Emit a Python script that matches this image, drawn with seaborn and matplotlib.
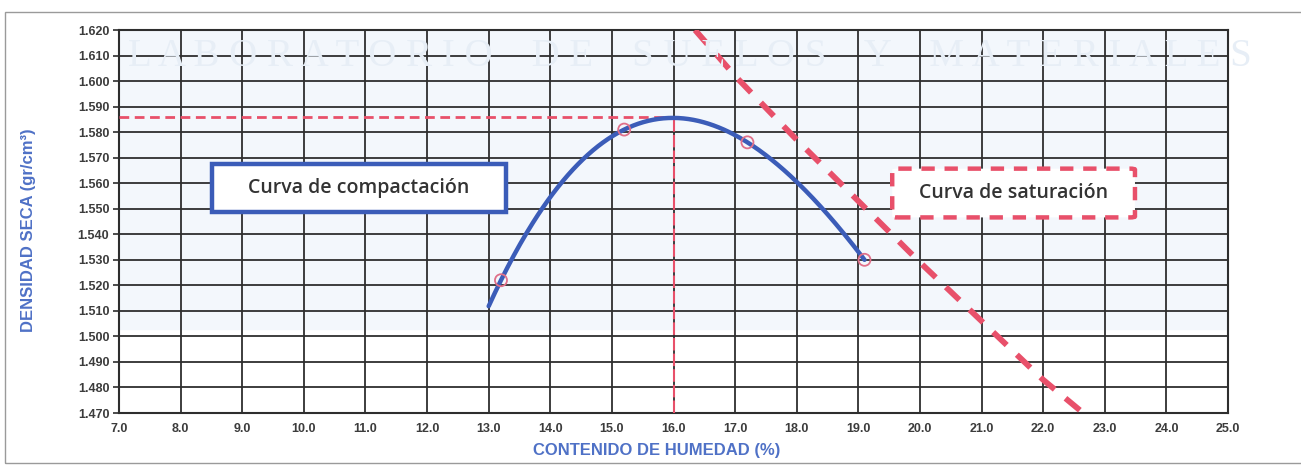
import numpy as np
import pandas as pd
import matplotlib
matplotlib.use("Agg")
import matplotlib.pyplot as plt
import seaborn as sns
from matplotlib.patches import Rectangle, FancyBboxPatch

# Proctor test results: moisture content (%) and dry density (gr/cm3)
moisture = [13.2, 15.2, 17.2, 19.1]
dry_density = [1.522, 1.581, 1.576, 1.530]

# Optimum moisture content and maximum dry density
omc = 16.0
mdd = 1.586

# Zero-air-voids (saturation) curve
sat_moisture = [16.35, 17.0, 18.0, 19.0, 20.0, 21.0, 22.0, 22.7]
sat_density = [1.620, 1.602, 1.577, 1.553, 1.529, 1.506, 1.483, 1.469]

x_ticks = [7.0, 8.0, 9.0, 10.0, 11.0, 12.0, 13.0, 14.0, 15.0, 16.0,
           17.0, 18.0, 19.0, 20.0, 21.0, 22.0, 23.0, 24.0, 25.0]
y_ticks = [1.470, 1.480, 1.490, 1.500, 1.510, 1.520, 1.530, 1.540,
           1.550, 1.560, 1.570, 1.580, 1.590, 1.600, 1.610, 1.620]

BLUE = "#3b5cb8"
LABEL_BLUE = "#4f71c6"
PINK = "#e8506a"
GRID = "#2e2e2e"

sns.set_theme(style="white")
plt.rcParams["font.family"] = ["Liberation Sans", "DejaVu Sans"]

fig = plt.figure(figsize=(13.01, 4.66), dpi=100)
ax = fig.add_axes([119 / 1301, 1 - 413 / 466, (1228 - 119) / 1301, (413 - 30) / 466])
ax.set_facecolor("none")

# page frame
fig.add_artist(Rectangle((5 / 1301, 3 / 466), 1.2, 451 / 466, transform=fig.transFigure,
                         fill=False, edgecolor="#9a9a9a", linewidth=1.0))

# faint letterhead watermark
fig.text(128 / 1301, 1 - 57 / 466,
         "L A B O R A T O R I O    D E    S U E L O S    Y    M A T E R I A L E S",
         ha="left", va="center", fontsize=28, color="#e7eef6",
         family="Liberation Serif", zorder=0)
ax.axhspan(1.503, 1.620, color="#f3f7fc", zorder=0)

ax.set_xlim(7.0, 25.0)
ax.set_ylim(1.470, 1.620)
ax.set_xticks(x_ticks)
ax.set_yticks(y_ticks)
ax.set_xticklabels([f"{v:.1f}" for v in x_ticks])
ax.set_yticklabels([f"{v:.3f}" for v in y_ticks])
ax.grid(True, color=GRID, linewidth=1.3, zorder=1)
ax.set_axisbelow(True)
for s in ax.spines.values():
    s.set_color(GRID)
    s.set_linewidth(1.5)
ax.tick_params(axis="both", which="major", length=4, width=1.2, color=GRID,
               labelsize=9, labelcolor="#3c3c3c", pad=3, direction="out",
               left=True, bottom=False)
for lbl in ax.get_xticklabels() + ax.get_yticklabels():
    lbl.set_fontweight("bold")

# reference lines at the optimum
ax.plot([7.0, omc], [mdd, mdd], color=PINK, linewidth=2.0, dashes=(3.5, 2), zorder=3)
ax.plot([omc, omc], [1.470, mdd], color=PINK, linewidth=1.5, dashes=(6, 1.5), zorder=3)

# saturation line
sat_df = pd.DataFrame({"w": sat_moisture, "gd": sat_density})
sns.lineplot(data=sat_df, x="w", y="gd", ax=ax, color=PINK, linewidth=4.2,
             dashes=False, zorder=4, sort=False)
ax.lines[-1].set_dashes((3.2, 2.4))
ax.lines[-1].set_solid_capstyle("butt")

# compaction curve through the test points
coef = np.polyfit(moisture, dry_density, 3)
ws = np.linspace(13.0, 19.1, 300)
curve_df = pd.DataFrame({"w": ws, "gd": np.polyval(coef, ws)})
sns.lineplot(data=curve_df, x="w", y="gd", ax=ax, color=BLUE, linewidth=3.2, zorder=5)

pts = pd.DataFrame({"w": moisture, "gd": dry_density})
sns.scatterplot(data=pts, x="w", y="gd", ax=ax, s=75, marker="o",
                facecolors="none", edgecolor="#e0708a", linewidth=1.3, zorder=6)

# annotation boxes
ax.add_patch(Rectangle((8.51, 1.5489), 13.28 - 8.51, 1.5677 - 1.5489,
                       facecolor="white", edgecolor=BLUE, linewidth=3.2, zorder=7))
ax.text((8.51 + 13.28) / 2, 1.5583, "Curva de compactación", ha="center", va="center",
        fontsize=14, color="#333333", family="Open Sans", fontweight="semibold", zorder=8)

ax.add_patch(FancyBboxPatch((19.55, 1.5466), 23.49 - 19.55, 1.5657 - 1.5466,
                            boxstyle="round,pad=0,rounding_size=0.08",
                            mutation_aspect=0.005,
                            facecolor="white", edgecolor=PINK, linewidth=3.2,
                            linestyle=(0, (3, 2.2)), zorder=7))
ax.text((19.55 + 23.49) / 2, 1.5561, "Curva de saturación", ha="center", va="center",
        fontsize=14, color="#333333", family="Open Sans", fontweight="semibold", zorder=8)

ax.set_xlabel("CONTENIDO DE HUMEDAD (%)", fontsize=12, fontweight="bold",
              color=LABEL_BLUE)
ax.set_ylabel("DENSIDAD SECA (gr/cm³)", fontsize=12, fontweight="bold",
              color=LABEL_BLUE)
ax.xaxis.set_label_coords(0.485, -0.097)
ax.yaxis.set_label_coords(-0.082, 0.478)
ax.xaxis.label.set_va("center")
ax.yaxis.label.set_va("center")

fig.savefig("out.png", dpi=100)
